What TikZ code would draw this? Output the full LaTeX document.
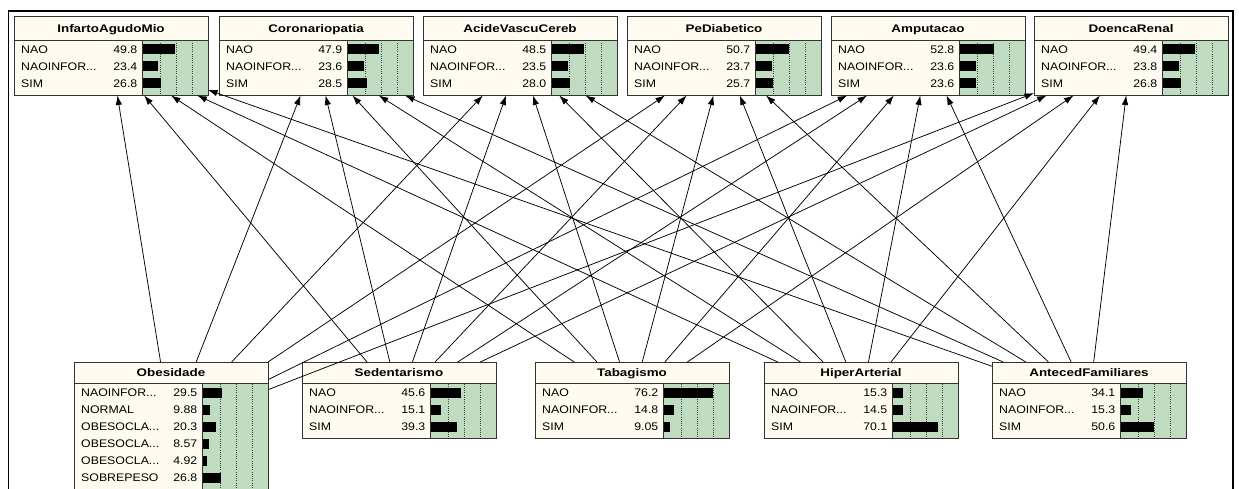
\documentclass[tikz,border=0pt]{standalone}
\usepackage{fontspec}
\setmainfont{Liberation Sans}
\newfontfamily\bnlabfont[FakeStretch=1.12]{Liberation Sans}
\newfontfamily\bntitfont[FakeStretch=1.22]{Liberation Sans}
\usetikzlibrary{arrows.meta}
\definecolor{bncream}{HTML}{FFFBF0}
\definecolor{bngreen}{HTML}{C0DCC0}
\definecolor{bnborder}{HTML}{333333}
\newcommand\bnNI{NAOINFOR...}
\newcommand\bnOC{OBESOCLA...}
\tikzset{
  bnlab/.style={inner sep=0pt, text=black, font=\bnlabfont\fontsize{11}{12}\selectfont},
  bntitle/.style={inner sep=0pt, anchor=base, font=\bntitfont\bfseries\fontsize{11}{13}\selectfont},
  bnborderline/.style={draw=bnborder, line width=0.9pt},
  bndot/.style={draw=black!75, line width=0.6pt, dash pattern=on 1pt off 1.2pt},
  bnarrow/.style={draw=black, line width=0.75pt, -{Latex[length=9.5pt,width=6.5pt]}},
  bnframe/.style={draw=black, line width=1.6pt},
  bnhit/.style={shape=rectangle, inner sep=0pt, outer sep=0pt, draw=none}
}
% #1 name, #2 left x, #3 top y, #4 title height, #5 number of rows, #6 title, #7 rows, #8 bottom padding
\newcommand\bnnode[8]{%
  \pgfmathsetmacro\bnsep{#3+#4}%
  \pgfmathsetmacro\bnh{#4+17*#5+#8}%
  \pgfmathsetmacro\bnbot{#3+\bnh}%
  \pgfmathsetmacro\bnsplit{#2+128}%
  \pgfmathsetmacro\bnright{#2+194}%
  \fill[bncream] (#2,#3) rectangle (\bnright,\bnsep);
  \fill[bncream] (#2,\bnsep) rectangle (\bnsplit,\bnbot);
  \fill[bngreen] (\bnsplit,\bnsep) rectangle (\bnright,\bnbot);
  \foreach \k in {1,2,3} {\draw[bndot] ({\bnsplit+2+16*\k},\bnsep) -- ({\bnsplit+2+16*\k},\bnbot);}
  \foreach \lab/\val [count=\i] in {#7} {%
    \pgfmathsetmacro\ry{\bnsep+9+17*(\i-1)}%
    \node[bnlab, anchor=base west] at ({#2+7},{\ry+3.9}) {\lab};
    \node[bnlab, anchor=base east] at ({\bnsplit-4.5},{\ry+3.9}) {\val};
    \fill[black] (\bnsplit,{\ry-5}) rectangle ({\bnsplit+1.5+0.64*\val},{\ry+5});
  }
  \draw[bnborderline] (#2,\bnsep) -- (\bnright,\bnsep);
  \draw[bnborderline] (\bnsplit,\bnsep) -- (\bnsplit,\bnbot);
  \draw[bnborderline] (#2,#3) rectangle (\bnright,\bnbot);
  \node[bntitle] at ({#2+97},{#3+#4/2+4}) {#6};
  \node[bnhit, minimum width=194pt, minimum height=\bnh pt] (#1) at ({#2+97},{#3+\bnh/2}) {};
}
\begin{document}
\begin{tikzpicture}[x=1pt,y=-1pt]
\useasboundingbox (0,0) rectangle (1239,489);
\clip (0,0) rectangle (1239,489);
\fill[white] (0,0) rectangle (1239,489);
\draw[bnframe] (8.5,11) rectangle (1233,560);
% top (child) nodes
\bnnode{infarto}{14}{16}{24.5}{3}{InfartoAgudoMio}{NAO/49.8, \bnNI/23.4, SIM/26.8}{4}
\bnnode{corona}{219}{16}{24.5}{3}{Coronariopatia}{NAO/47.9, \bnNI/23.6, SIM/28.5}{4}
\bnnode{avc}{423}{16}{24.5}{3}{AcideVascuCereb}{NAO/48.5, \bnNI/23.5, SIM/28.0}{4}
\bnnode{pedia}{627}{16}{24.5}{3}{PeDiabetico}{NAO/50.7, \bnNI/23.7, SIM/25.7}{4}
\bnnode{amput}{831}{16}{24.5}{3}{Amputacao}{NAO/52.8, \bnNI/23.6, SIM/23.6}{4}
\bnnode{renal}{1034}{16}{24.5}{3}{DoencaRenal}{NAO/49.4, \bnNI/23.8, SIM/26.8}{4}
% bottom (parent) nodes
\bnnode{obes}{74}{362}{21.5}{6}{Obesidade}{\bnNI/29.5, NORMAL/9.88, \bnOC/20.3, \bnOC/8.57, \bnOC/4.92, SOBREPESO/26.8}{6}
\bnnode{seden}{302}{362}{21.5}{3}{Sedentarismo}{NAO/45.6, \bnNI/15.1, SIM/39.3}{4}
\bnnode{tabag}{535}{362}{21.5}{3}{Tabagismo}{NAO/76.2, \bnNI/14.8, SIM/9.05}{4}
\bnnode{hiper}{764}{362}{21.5}{3}{HiperArterial}{NAO/15.3, \bnNI/14.5, SIM/70.1}{4}
\bnnode{antec}{992}{362}{21.5}{3}{AntecedFamiliares}{NAO/34.1, \bnNI/15.3, SIM/50.6}{4}
% connectors
\foreach \p in {obes,seden,tabag,hiper,antec} {
  \foreach \c in {infarto,corona,avc,pedia,amput,renal} {
    \draw[bnarrow] (\p) -- (\c);
  }
}
\end{tikzpicture}
\end{document}
